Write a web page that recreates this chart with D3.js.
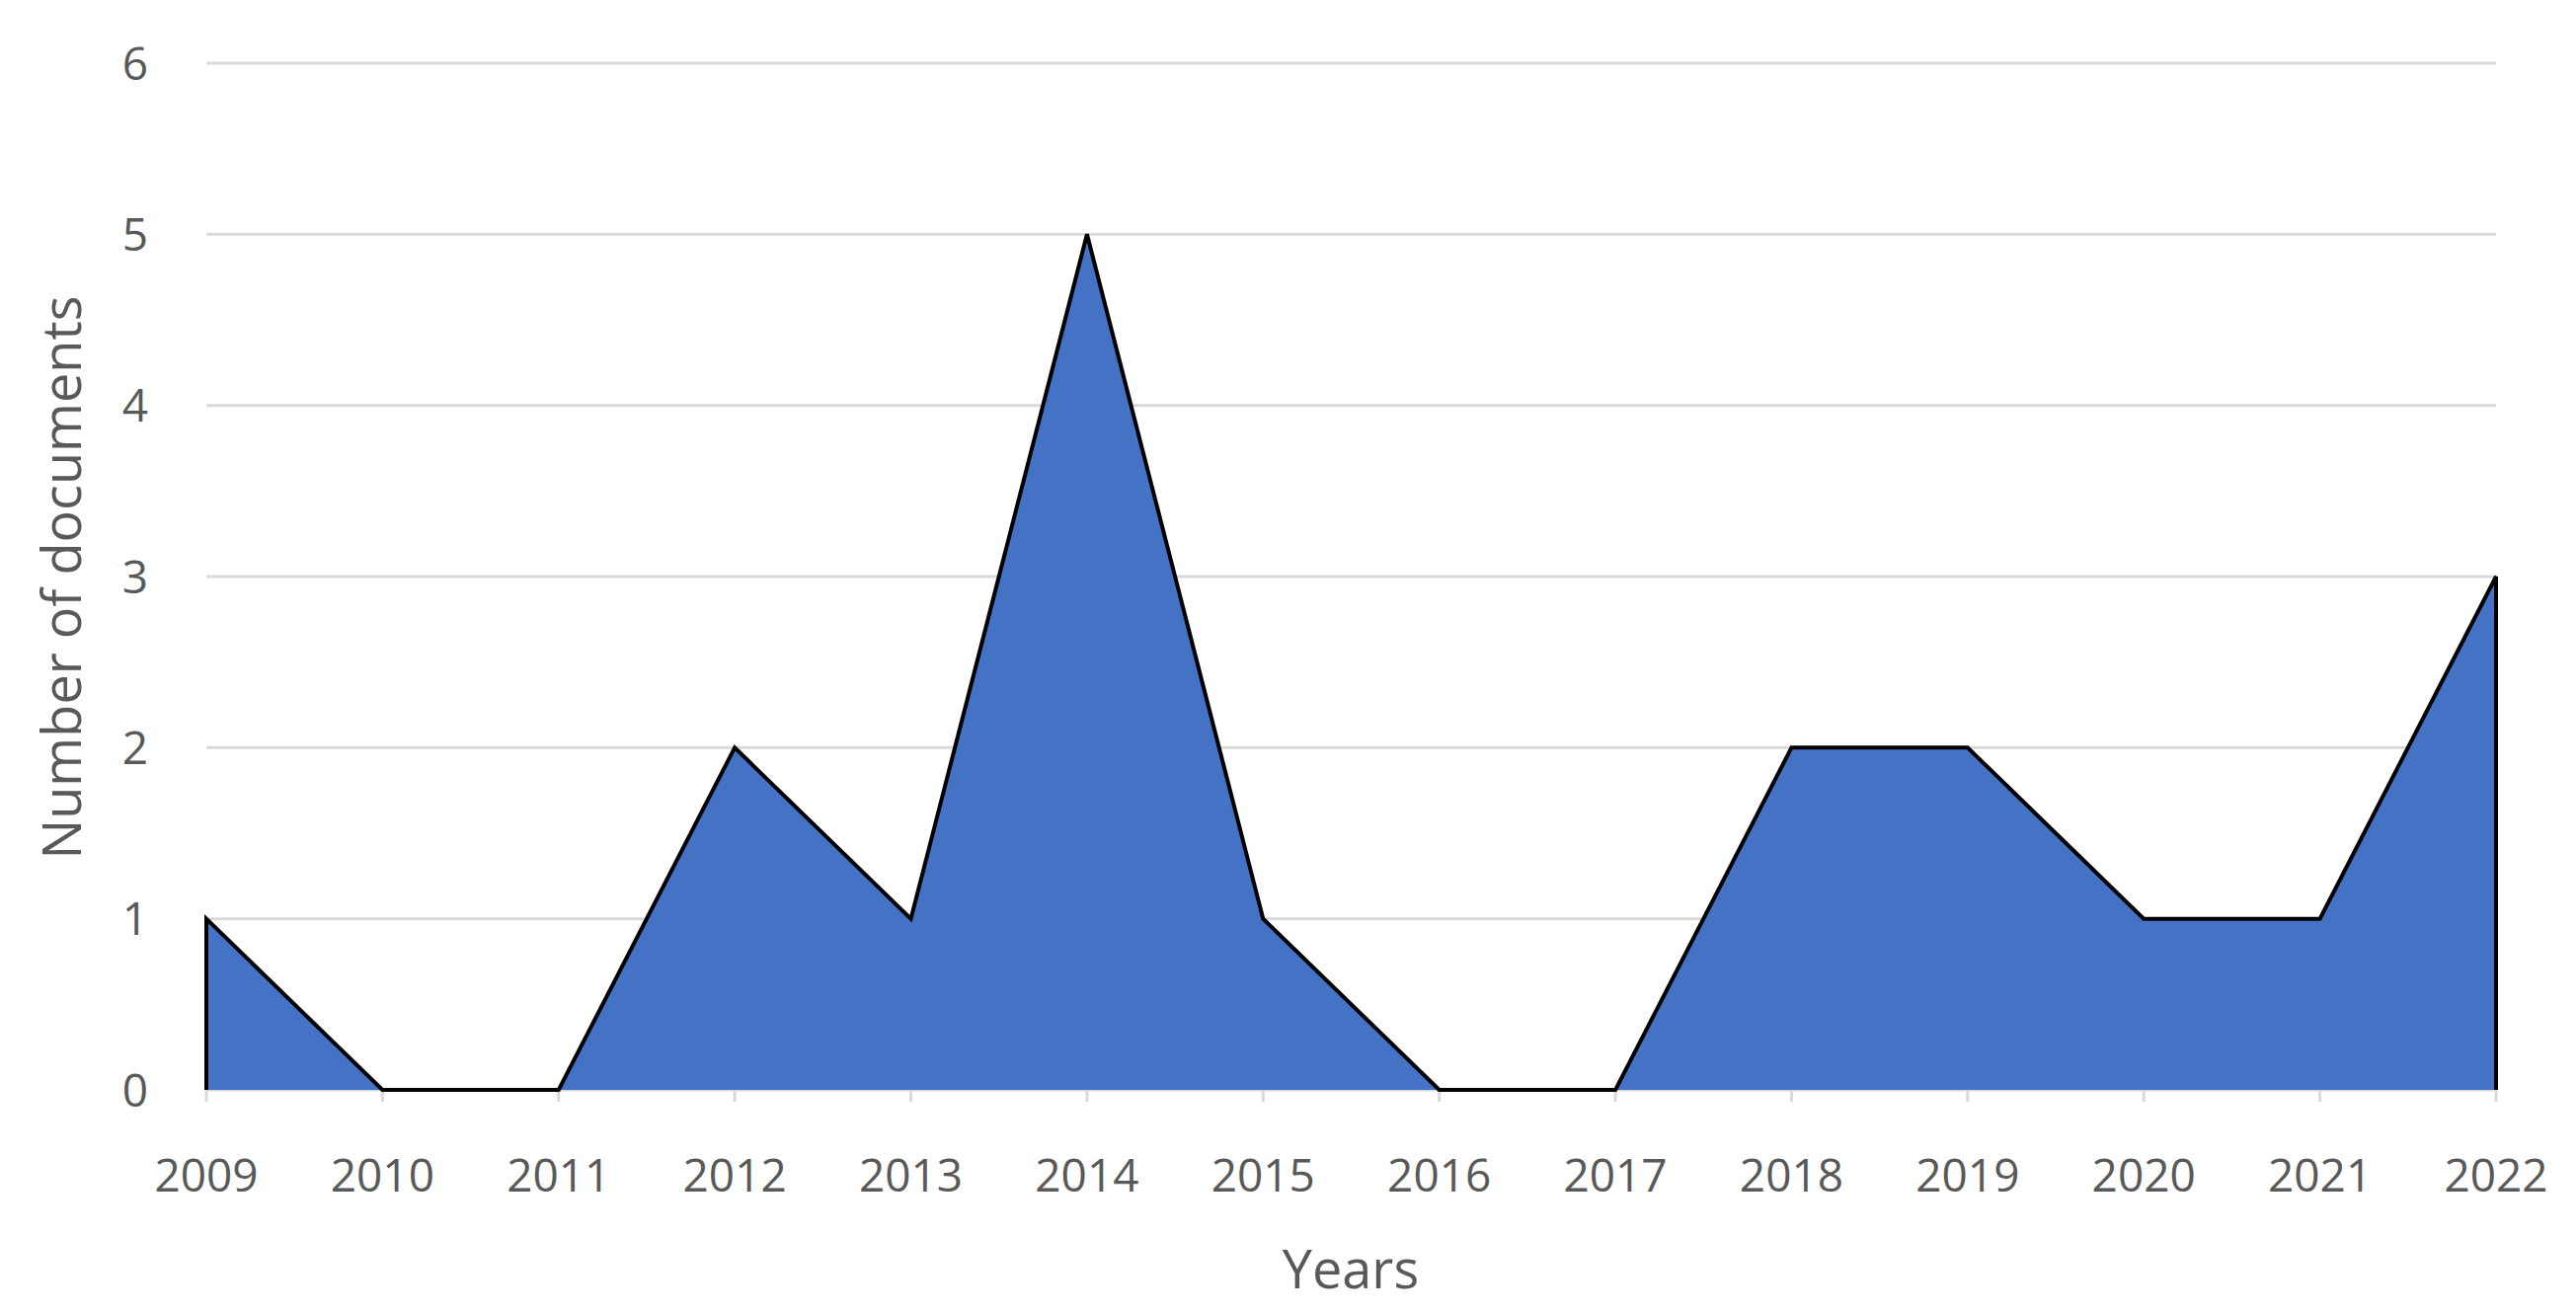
<!DOCTYPE html>
<html><head><meta charset="utf-8">
<script src="https://cdn.jsdelivr.net/npm/d3@7"></script>
<style>body{margin:0;background:#fff}</style></head>
<body><svg id="c" width="2609" height="1330"></svg>
<script>
const years = [2009,2010,2011,2012,2013,2014,2015,2016,2017,2018,2019,2020,2021,2022];
const documents = [1,0,0,2,1,5,1,0,0,2,2,1,1,3];
const yTicks = [0,1,2,3,4,5,6];

const svg = d3.select("#c");
const x = d3.scalePoint().domain(years).range([209, 2528]);
const y = d3.scaleLinear().domain([0,6]).range([1104, 64]);
const font = "'Open Sans', 'Liberation Sans', sans-serif";

svg.append("g").selectAll("line").data(yTicks).join("line")
  .attr("x1", 209).attr("x2", 2528).attr("y1", d=>y(d)).attr("y2", d=>y(d))
  .attr("stroke", "#d9d9d9").attr("stroke-width", 3);

svg.append("g").selectAll("line").data(years).join("line")
  .attr("x1", d=>x(d)).attr("x2", d=>x(d)).attr("y1", 1104).attr("y2", 1116)
  .attr("stroke", "#d9d9d9").attr("stroke-width", 3);

const area = d3.area().x((d,i)=>x(years[i])).y0(y(0)).y1(d=>y(d));
svg.append("path").datum(documents).attr("d", area).attr("fill", "#4472C4");
const line = d3.line().x((d,i)=>x(years[i])).y(d=>y(d));
const pts = [[years[0],0]].concat(years.map((yr,i)=>[yr,documents[i]])).concat([[years[years.length-1],0]]);
svg.append("path").datum(pts)
  .attr("d", d3.line().x(d=>x(d[0])).y(d=>y(d[1])))
  .attr("fill","none").attr("stroke","#000").attr("stroke-width",4).attr("stroke-linejoin","miter");

svg.append("g").selectAll("text").data(yTicks).join("text")
  .attr("x", 150).attr("y", d=>y(d)).attr("dy","0.36em").attr("text-anchor","end")
  .attr("font-family", font).attr("font-size", 46).attr("fill","#595959").text(d=>d);

svg.append("g").selectAll("text").data(years).join("text")
  .attr("x", d=>x(d)).attr("y", 1207).attr("text-anchor","middle")
  .attr("font-family", font).attr("font-size", 46).attr("fill","#595959").text(d=>d);

svg.append("text").attr("x", 1368).attr("y", 1305).attr("text-anchor","middle")
  .attr("font-family", font).attr("font-size", 54).attr("fill","#595959").text("Years");

svg.append("text").attr("transform","translate(82,585) rotate(-90)").attr("text-anchor","middle")
  .attr("font-family", font).attr("font-size", 54).attr("fill","#595959").text("Number of documents");
</script></body></html>
